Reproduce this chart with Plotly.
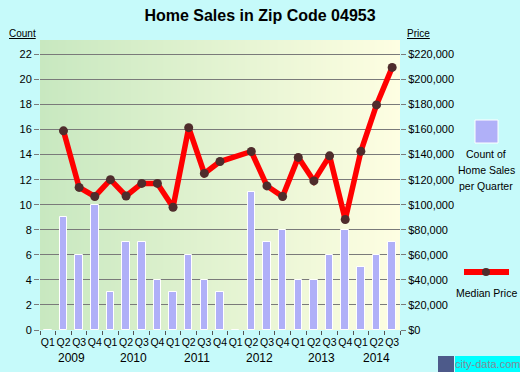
import base64, struct, zlib
import plotly.graph_objects as go

# ---------------- data ----------------
quarters = ["Q1", "Q2", "Q3", "Q4", "Q1", "Q2", "Q3", "Q4", "Q1", "Q2", "Q3", "Q4",
            "Q1", "Q2", "Q3", "Q4", "Q1", "Q2", "Q3", "Q4", "Q1", "Q2", "Q3"]
years = ["2009", "2010", "2011", "2012", "2013", "2014"]
quarter_year = [2009]*4 + [2010]*4 + [2011]*4 + [2012]*4 + [2013]*4 + [2014]*3
sales_count = [0, 9, 6, 10, 3, 7, 7, 4, 3, 6, 4, 3,
               0, 11, 7, 8, 4, 4, 6, 8, 5, 6, 7]
median_price = [None, 159000, 113800, 106600, 120000, 107000, 117000, 117000,
                98000, 161500, 125000, 134500, None, 142500, 115000, 106600,
                137800, 119000, 139000, 88200, 142600, 179700, 209600]
count_ticks = list(range(0, 23, 2))
price_ticks = list(range(0, 220001, 20000))

# ---------------- geometry helpers ----------------
W, H = 520, 372
ML, MR, MT, MB = 40, 120, 40, 42
PW, PH = W - ML - MR, H - MT - MB

def px(x):
    return (x - ML) / PW

def py(y):
    return (H - MB - y) / PH

# ---------------- gradient background image ----------------
def gradient_png(c0, c1, n=256):
    row = bytearray([0])
    for i in range(n):
        t = i / (n - 1)
        for a, b in zip(c0, c1):
            row.append(int(round(a + (b - a) * t)))
    def chunk(tag, data):
        return struct.pack(">I", len(data)) + tag + data + struct.pack(">I", zlib.crc32(tag + data) & 0xffffffff)
    png = b"\x89PNG\r\n\x1a\n"
    png += chunk(b"IHDR", struct.pack(">IIBBBBB", n, 1, 8, 2, 0, 0, 0))
    png += chunk(b"IDAT", zlib.compress(bytes(row)))
    png += chunk(b"IEND", b"")
    return "data:image/png;base64," + base64.b64encode(png).decode()

bg_src = gradient_png((200, 232, 192), (254, 254, 226))

FONT = "Liberation Sans, Arial, sans-serif"
xs = list(range(len(quarters)))
ymax_count = 23.15

fig = go.Figure()
fig.add_trace(go.Bar(
    x=xs, y=sales_count, width=0.48,
    marker=dict(color="#b0b0f8", line=dict(color="white", width=1)),
    yaxis="y", hoverinfo="skip", showlegend=False))
fig.add_trace(go.Scatter(
    x=xs, y=median_price, yaxis="y2", mode="lines+markers", connectgaps=True,
    line=dict(color="#ff0000", width=5.5),
    marker=dict(color="#4f2c2c", size=9),
    showlegend=False))

# year labels
annotations = []
for yr in years:
    idx = [i for i, q in enumerate(quarter_year) if str(q) == yr]
    annotations.append(dict(x=sum(idx) / len(idx), y=py(358), xref="x", yref="paper",
                            text=yr, showarrow=False, font=dict(size=12, color="black", family=FONT),
                            xanchor="center", yanchor="middle"))
# axis titles
annotations.append(dict(x=px(22), y=py(34), xref="paper", yref="paper", text="<u>Count</u>",
                        showarrow=False, font=dict(size=10, color="black", family=FONT),
                        xanchor="center", yanchor="middle"))
annotations.append(dict(x=px(418), y=py(34), xref="paper", yref="paper", text="<u>Price</u>",
                        showarrow=False, font=dict(size=10, color="black", family=FONT),
                        xanchor="center", yanchor="middle"))
# legend text
for t, yy in [("Count of", 154), ("Home Sales", 170), ("per Quarter", 186), ("Median Price", 293)]:
    annotations.append(dict(x=px(486), y=py(yy), xref="paper", yref="paper", text=t,
                            showarrow=False, font=dict(size=10.5, color="black", family=FONT),
                            xanchor="center", yanchor="middle"))
# watermark
annotations.append(dict(x=px(487), y=py(364), xref="paper", yref="paper", text="city-data.com",
                        showarrow=False, font=dict(size=11, color="#7f8c9a", family=FONT),
                        xanchor="center", yanchor="middle"))

shapes = [
    dict(type="rect", xref="paper", yref="paper", x0=px(475), x1=px(498), y0=py(143), y1=py(120),
         fillcolor="#b0b0f8", line=dict(color="white", width=1)),
    dict(type="line", xref="paper", yref="paper", x0=px(464), x1=px(509), y0=py(272), y1=py(272),
         line=dict(color="#ff0000", width=6)),
    dict(type="circle", xref="paper", yref="paper", x0=px(482), x1=px(490), y0=py(276), y1=py(268),
         fillcolor="#4f2c2c", line=dict(width=0)),
    dict(type="rect", xref="paper", yref="paper", x0=px(438), x1=px(454), y0=py(372), y1=py(356),
         fillcolor="#4d5a8a", line=dict(width=0)),
    dict(type="rect", xref="paper", yref="paper", x0=px(455), x1=px(520), y0=py(372), y1=py(356),
         fillcolor="#00ffff", line=dict(width=0)),
]

fig.update_layout(
    width=W, height=H,
    margin=dict(l=ML, r=MR, t=MT, b=MB, pad=0),
    paper_bgcolor="#c6fafa",
    plot_bgcolor="rgba(0,0,0,0)",
    font=dict(family=FONT, size=11, color="black"),
    title=dict(text="<b>Home Sales in Zip Code 04953</b>", x=0.5, xref="container",
               xanchor="center", y=1 - 15 / H, yanchor="middle",
               font=dict(size=16, color="black", family=FONT)),
    bargap=0,
    xaxis=dict(range=[-0.5, len(quarters) - 0.5], tickmode="array", tickvals=xs, ticktext=quarters,
               ticks="", showgrid=False, zeroline=False, showline=False, tickangle=0,
               ticklabelstandoff=4,
               tickfont=dict(size=10.5, family=FONT),
               minor=dict(tick0=-0.5, dtick=1, ticks="outside", ticklen=4, tickcolor="#555555",
                          showgrid=False)),
    yaxis=dict(range=[0, ymax_count], tickmode="array", tickvals=count_ticks,
               showgrid=True, gridcolor="#7a7a7a", gridwidth=1, zeroline=False,
               ticks="outside", ticklen=5, tickcolor="#7a7a7a",
               tickfont=dict(size=11, family=FONT)),
    yaxis2=dict(range=[0, ymax_count * 10000], overlaying="y", side="right",
                tickmode="array", tickvals=price_ticks,
                ticktext=["${:,}".format(v) for v in price_ticks],
                showgrid=False, zeroline=False, ticks="outside", ticklen=5, tickcolor="#7a7a7a",
                tickfont=dict(size=11, family=FONT)),
    images=[dict(source=bg_src, xref="paper", yref="paper", x=0, y=1, sizex=1, sizey=1,
                 sizing="stretch", xanchor="left", yanchor="top", layer="below")],
    annotations=annotations,
    shapes=shapes,
)

fig.write_html("out.html", config={"displayModeBar": False},
               post_script="document.body.style.margin='0';document.body.style.overflow='hidden';")
